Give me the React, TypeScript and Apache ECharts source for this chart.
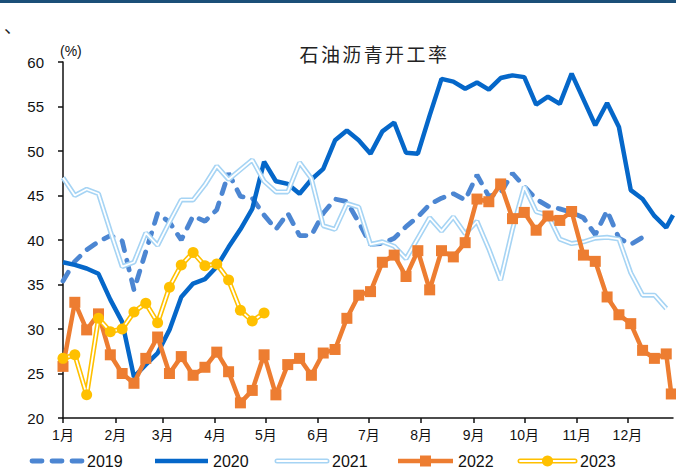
import React, { useEffect, useRef } from "react";
import * as echarts from "echarts";

// ---- data ----
const monthLabels = ["1月", "2月", "3月", "4月", "5月", "6月", "7月", "8月", "9月", "10月", "11月", "12月"];
const monthStartDays = [0, 31, 59, 90, 120, 151, 181, 212, 243, 273, 304, 334];
const WEEK_DAYS = 7;
const AXIS_END_DAY = 361;

const y2019 = [
  35.4, 37.6, 38.9, 39.8, 40.5, 39.9, 34.4, 38.7, 43.0, 42.0,
  40.0, 42.7, 42.1, 43.4, 47.5, 44.9, 44.7, 42.8, 41.2, 43.0,
  40.5, 40.5, 43.0, 44.6, 44.3, 42.0, 39.5, 39.6, 40.2, 41.5,
  42.6, 44.0, 44.7, 45.2, 44.5, 47.3, 44.9, 45.3, 47.5, 46.0,
  44.6, 43.8, 43.5, 43.1, 42.5, 40.6, 43.3, 40.2, 39.5, 40.3,
];

const y2020 = [
  37.5, 37.2, 36.8, 36.2, 33.3, 30.8, 24.6, 26.0, 27.3, 29.9,
  33.6, 35.1, 35.6, 37.0, 39.2, 41.2, 43.5, 48.8, 46.6, 46.3,
  45.2, 46.8, 48.0, 51.2, 52.3, 51.2, 49.7, 52.2, 53.2, 49.8,
  49.7, 54.0, 58.1, 57.8, 57.0, 57.7, 56.9, 58.2, 58.5, 58.3,
  55.2, 56.1, 55.3, 58.7, 55.8, 52.9, 55.4, 52.7, 45.6, 44.6,
  42.7, 41.4,
];
const tail2020 = [361, 42.8];

const y2021 = [
  47.0, 45.0, 45.7, 45.2, 41.0, 37.0, 37.5, 40.8, 39.4, 42.0,
  44.5, 44.5, 46.2, 48.3, 46.8, 47.9, 49.0, 46.6, 45.4, 45.4,
  48.7, 46.9, 41.6, 41.2, 44.1, 43.7, 39.5, 39.8, 39.3, 37.9,
  40.2, 42.5, 41.0, 42.6, 40.7, 42.1, 39.0, 35.5, 41.2, 46.0,
  43.2, 42.8, 40.1, 39.6, 39.8, 40.2, 40.3, 40.1, 36.3, 33.8,
  33.8, 32.3,
];

const y2022 = [
  25.8, 33.0, 29.9, 31.7, 27.1, 25.0, 23.9, 26.7, 29.1, 25.0,
  26.9, 24.8, 25.7, 27.4, 25.2, 21.7, 23.1, 27.1, 22.6, 26.0,
  26.7, 24.8, 27.3, 27.7, 31.2, 33.8, 34.2, 37.5, 38.3, 35.9,
  38.8, 34.4, 38.8, 38.1, 39.7, 44.6, 44.3, 46.3, 42.4, 43.1,
  41.1, 42.7, 42.2, 43.2, 38.3, 37.6, 33.6, 31.6, 30.6, 27.6,
  26.7, 27.2,
];
const tail2022 = [360, 22.7];

const y2023 = [
  26.7, 27.1, 22.6, 31.2, 29.7, 30.0, 31.9, 32.9, 30.7, 34.7,
  37.2, 38.6, 37.1, 37.3, 35.5, 32.1, 30.9, 31.8,
];

const yTicks = { min: 20, max: 60, interval: 5 };

const title = "石油沥青开工率";
const unitLabel = "(%)";
const legendNames = ["2019", "2020", "2021", "2022", "2023"];

// ---- styles ----
const C2019 = "#4C86D2";
const C2020 = "#0567C9";
const C2021 = "#A6D4F4";
const C2022 = "#ED7D31";
const C2023 = "#FFC000";
const LATIN = "'Liberation Sans', Arial, 'Noto Sans CJK SC', sans-serif";
const CJK = "'Noto Sans CJK SC', sans-serif";

const weekly = (vals: number[]) => vals.map((v, i) => [i * WEEK_DAYS, v]);

export default function App() {
  const ref = useRef<HTMLDivElement>(null);

  useEffect(() => {
    if (!ref.current) return;
    const chart = echarts.init(ref.current, undefined, { renderer: "svg" });

    const d2019 = weekly(y2019);
    const d2020 = [...weekly(y2020), tail2020];
    const d2021 = weekly(y2021);
    const d2022 = [...weekly(y2022), tail2022];
    const d2023 = weekly(y2023);

    const legendY = 461;
    const legendItems: any[] = [];
    const lx = [32, 155, 277, 398, 520];
    const lw = [50, 53, 50, 55, 55];
    const textFont = { fontSize: 16, fontFamily: LATIN, fill: "#111" };
    legendItems.push({
      type: "line",
      shape: { x1: lx[0], y1: legendY, x2: lx[0] + lw[0], y2: legendY },
      style: { stroke: C2019, lineWidth: 4.8, lineDash: [10, 10], lineCap: "round" },
    });
    legendItems.push({
      type: "line",
      shape: { x1: lx[1], y1: legendY, x2: lx[1] + lw[1], y2: legendY },
      style: { stroke: C2020, lineWidth: 4.5 },
    });
    legendItems.push({
      type: "line",
      shape: { x1: lx[2], y1: legendY, x2: lx[2] + lw[2], y2: legendY },
      style: { stroke: C2021, lineWidth: 5, lineCap: "round" },
    });
    legendItems.push({
      type: "line",
      shape: { x1: lx[2], y1: legendY, x2: lx[2] + lw[2], y2: legendY },
      style: { stroke: "#fff", lineWidth: 1.8, lineCap: "round" },
    });
    legendItems.push({
      type: "line",
      shape: { x1: lx[3], y1: legendY, x2: lx[3] + lw[3], y2: legendY },
      style: { stroke: C2022, lineWidth: 4.5 },
    });
    legendItems.push({
      type: "rect",
      shape: { x: lx[3] + lw[3] / 2 - 5.5, y: legendY - 5.5, width: 11, height: 11 },
      style: { fill: C2022 },
    });
    legendItems.push({
      type: "line",
      shape: { x1: lx[4], y1: legendY, x2: lx[4] + lw[4], y2: legendY },
      style: { stroke: C2023, lineWidth: 5, lineCap: "round" },
    });
    legendItems.push({
      type: "line",
      shape: { x1: lx[4], y1: legendY, x2: lx[4] + lw[4], y2: legendY },
      style: { stroke: "#fff", lineWidth: 1.8, lineCap: "round" },
    });
    legendItems.push({
      type: "circle",
      shape: { cx: lx[4] + lw[4] / 2, cy: legendY, r: 5.5 },
      style: { fill: C2023 },
    });
    legendNames.forEach((n, i) => {
      legendItems.push({
        type: "text",
        x: lx[i] + lw[i] + 5,
        y: legendY,
        style: { ...textFont, text: n, verticalAlign: "middle", align: "left" },
      });
    });

    const titleChars = Array.from(title).map((ch, i) => ({
      type: "text",
      x: 309 + i * 21.4,
      y: 53,
      style: { text: ch, fontSize: 19, fontFamily: CJK, fill: "#222", align: "center", verticalAlign: "middle" },
    }));

    const option: any = {
      animation: false,
      backgroundColor: "#fff",
      grid: { left: 63, right: 3, top: 62, bottom: 52, containLabel: false },
      xAxis: {
        type: "value",
        min: 0,
        max: AXIS_END_DAY,
        splitLine: { show: false },
        axisLine: { show: true, lineStyle: { color: "#111", width: 1.5 } },
        axisTick: {
          show: true,
          customValues: monthStartDays,
          length: 5,
          inside: false,
          lineStyle: { color: "#111", width: 1.5 },
        },
        axisLabel: {
          customValues: monthStartDays,
          formatter: (v: number) => {
            const idx = monthStartDays.indexOf(Math.round(v));
            return idx >= 0 ? monthLabels[idx] : "";
          },
          fontSize: 14,
          fontFamily: LATIN,
          color: "#111",
          margin: 10,
        },
      },
      yAxis: {
        type: "value",
        min: yTicks.min,
        max: yTicks.max,
        interval: yTicks.interval,
        splitLine: { show: false },
        axisLine: { show: true, lineStyle: { color: "#111", width: 1.5 } },
        axisTick: { show: true, length: 5, inside: false, lineStyle: { color: "#111", width: 1.5 } },
        axisLabel: { fontSize: 15, fontFamily: LATIN, color: "#111", margin: 19 },
      },
      graphic: [
        { type: "rect", shape: { x: 0, y: 0, width: 676, height: 3 }, style: { fill: "#1B4F78" } },
        { type: "text", x: 4, y: 16, style: { text: "、", fontSize: 18, fontFamily: CJK, fill: "#222" } },
        {
          type: "text",
          x: 60,
          y: 51,
          style: { text: unitLabel, fontSize: 14, fontFamily: LATIN, fill: "#111", verticalAlign: "middle" },
        },
        ...titleChars,
        ...legendItems,
      ],
      series: [
        {
          name: "2019",
          type: "line",
          data: d2019,
          symbol: "none",
          lineStyle: { color: C2019, width: 4.8, type: [10, 10], cap: "round" },
        },
        {
          name: "2020",
          type: "line",
          data: d2020,
          symbol: "none",
          lineStyle: { color: C2020, width: 4.5 },
        },
        {
          name: "2021",
          type: "line",
          data: d2021,
          symbol: "none",
          lineStyle: { color: C2021, width: 5 },
        },
        {
          name: "2021-inner",
          type: "line",
          data: d2021,
          symbol: "none",
          lineStyle: { color: "#fff", width: 1.8 },
        },
        {
          name: "2022",
          type: "line",
          data: d2022,
          symbol: "rect",
          symbolSize: 11,
          itemStyle: { color: C2022 },
          lineStyle: { color: C2022, width: 4.5 },
        },
        {
          name: "2023",
          type: "line",
          data: d2023,
          symbol: "none",
          lineStyle: { color: C2023, width: 5 },
        },
        {
          name: "2023-inner",
          type: "line",
          data: d2023,
          symbol: "circle",
          symbolSize: 11,
          itemStyle: { color: C2023, borderWidth: 0 },
          lineStyle: { color: "#fff", width: 1.8 },
        },
      ],
    };

    chart.setOption(option);
    return () => chart.dispose();
  }, []);

  return (
    <div
      ref={ref}
      style={{ position: "absolute", left: 0, top: 0, width: 676, height: 470, background: "#fff" }}
    />
  );
}
